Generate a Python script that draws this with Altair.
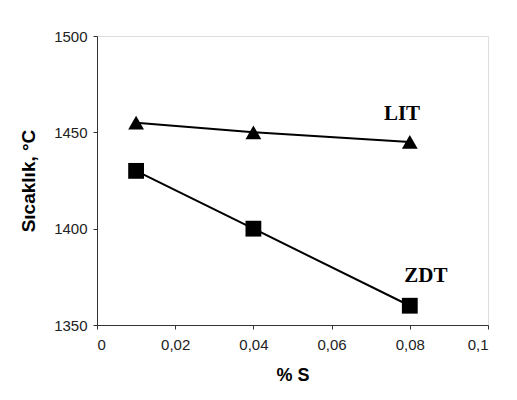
import altair as alt
import pandas as pd

x_vals = [0.01, 0.04, 0.08]
lit_vals = [1455, 1450, 1445]
zdt_vals = [1430, 1400, 1360]
series_names = ["LIT", "ZDT"]
label_x = [0.078, 0.0841]
label_y = [1459.5, 1375.4]
x_ticks = [0, 0.02, 0.04, 0.06, 0.08, 0.1]
y_ticks = [1350, 1400, 1450, 1500]

df = pd.DataFrame({
    "x": x_vals * 2,
    "y": lit_vals + zdt_vals,
    "s": ["LIT"] * 3 + ["ZDT"] * 3,
})
lab = pd.DataFrame({"x": label_x, "y": label_y, "t": series_names})

xs = alt.Scale(domain=[0, 0.1], nice=False, zero=False)
ys = alt.Scale(domain=[1350, 1500], nice=False, zero=False)

xenc = alt.X("x:Q", scale=xs, axis=alt.Axis(
    values=x_ticks, title="% S", format="~g",
    labelExpr="replace(datum.label, '.', ',')",
    grid=False, tickSize=4, labelPadding=8, titlePadding=14,
    labelFont="Liberation Sans", labelFontSize=15, labelColor="#222",
    titleFont="Liberation Sans", titleFontSize=18, titleFontWeight="bold",
    domainColor="#333", tickColor="#333"))
yenc = alt.Y("y:Q", scale=ys, axis=alt.Axis(
    values=y_ticks, title="Sıcaklık, °C", format="d",
    grid=False, tickSize=4, labelPadding=6, titlePadding=15,
    labelFont="Liberation Sans", labelFontSize=15, labelColor="#222",
    titleFont="Liberation Sans", titleFontSize=19, titleFontWeight="bold",
    domainColor="#333", tickColor="#333"))

base = alt.Chart(df)
lines = base.mark_line(color="black", strokeWidth=2).encode(
    x=xenc, y=yenc, detail="s:N")
pts = base.mark_point(filled=True, opacity=1, color="black").encode(
    x="x:Q", y="y:Q",
    shape=alt.Shape("s:N", scale=alt.Scale(domain=series_names, range=["triangle-up", "square"]), legend=None),
    size=alt.Size("s:N", scale=alt.Scale(domain=series_names, range=[250, 250]), legend=None))
txt = alt.Chart(lab).mark_text(font="Liberation Serif", fontSize=21, fontWeight="bold",
                               color="black", baseline="middle").encode(
    x="x:Q", y="y:Q", text="t:N")

chart = alt.layer(lines, pts, txt).properties(
    width=391, height=289,
    autosize=alt.AutoSizeParams(type="none"),
    padding={"left": 89, "top": 28, "right": 20, "bottom": 70},
).configure_view(stroke="#555", strokeWidth=1.5).configure(background="white")

chart.save("out.html", embed_options={"renderer": "svg", "actions": False})
